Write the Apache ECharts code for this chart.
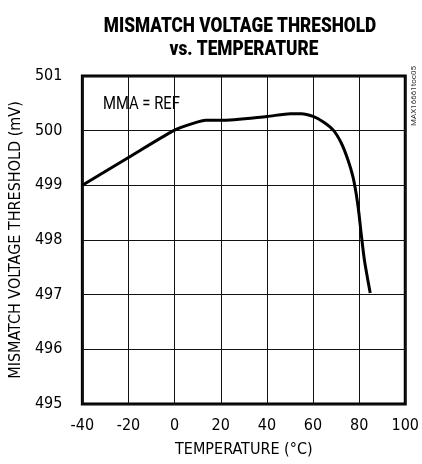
<!DOCTYPE html>
<html><head><meta charset="utf-8">
<script src="https://cdn.jsdelivr.net/npm/echarts@6/dist/echarts.min.js"></script>
<style>html,body{margin:0;padding:0;background:#fff}#c{width:422px;height:464px}</style>
</head><body><div id="c"></div>
<script>
const temps = [-40, -20, 0, 7.8, 13.5, 20, 40, 50.3, 55, 60, 64.5, 68.8, 72.3, 75.2, 77.3, 78.7, 79.9, 80.9, 82.3, 84.8];
const volts = [499.0, 499.51, 500.01, 500.13, 500.19, 500.19, 500.26, 500.31, 500.31, 500.26, 500.16, 500.01, 499.77, 499.46, 499.16, 498.85, 498.49, 498.11, 497.63, 497.03];
const xTicks = [-40, -20, 0, 20, 40, 60, 80, 100];
const yTicks = [495, 496, 497, 498, 499, 500, 501];
const titleLines = ['MISMATCH VOLTAGE THRESHOLD', 'vs. TEMPERATURE'];
const FONT = '"Liberation Sans Narrow","DejaVu Sans Condensed","Roboto",sans-serif';
const chart = echarts.init(document.getElementById('c'), null, {renderer:'canvas'});
chart.setOption({
  animation:false,
  grid:{left:81,right:12,top:76,bottom:60,show:true,borderColor:'#000',borderWidth:3},
  xAxis:{type:'value',min:xTicks[0],max:xTicks[xTicks.length-1],interval:20,
    name:'TEMPERATURE (°C)',nameLocation:'middle',nameGap:38,
    nameTextStyle:{fontFamily:FONT,fontSize:16,color:'#000'},
    axisLine:{show:false},axisTick:{show:false},
    axisLabel:{fontFamily:FONT,fontSize:16,color:'#000',margin:14},
    splitLine:{show:true,lineStyle:{color:'#111',width:1}}},
  yAxis:{type:'value',min:yTicks[0],max:yTicks[yTicks.length-1],interval:1,
    name:'MISMATCH VOLTAGE THRESHOLD (mV)',nameLocation:'middle',nameGap:56,nameRotate:90,
    nameTextStyle:{fontFamily:FONT,fontSize:16,color:'#000'},
    axisLine:{show:false},axisTick:{show:false},
    axisLabel:{fontFamily:FONT,fontSize:16,color:'#000',margin:20},
    splitLine:{show:true,lineStyle:{color:'#111',width:1}}},
  graphic:[
    {type:'text',x:240,y:16,scaleX:0.82,style:{text:titleLines[0],font:'900 21px Roboto, sans-serif',fill:'#000',align:'center',verticalAlign:'top'}},
    {type:'text',x:244,y:39,scaleX:0.82,style:{text:titleLines[1],font:'900 21px Roboto, sans-serif',fill:'#000',align:'center',verticalAlign:'top'}},
    {type:'text',x:103,y:95,scaleX:0.78,style:{text:'MMA = REF',font:'19px Roboto, sans-serif',fill:'#000',align:'left',verticalAlign:'top'}},
    {type:'text',x:418,y:66,rotation:Math.PI/2,style:{text:'MAX16661toc05',font:'8px Roboto, sans-serif',fill:'#333',align:'right',verticalAlign:'bottom'}}
  ],
  series:[{type:'line',data:temps.map((t,i)=>[t,volts[i]]),showSymbol:false,smooth:0.25,
    lineStyle:{color:'#000',width:3}}]
});
</script></body></html>
